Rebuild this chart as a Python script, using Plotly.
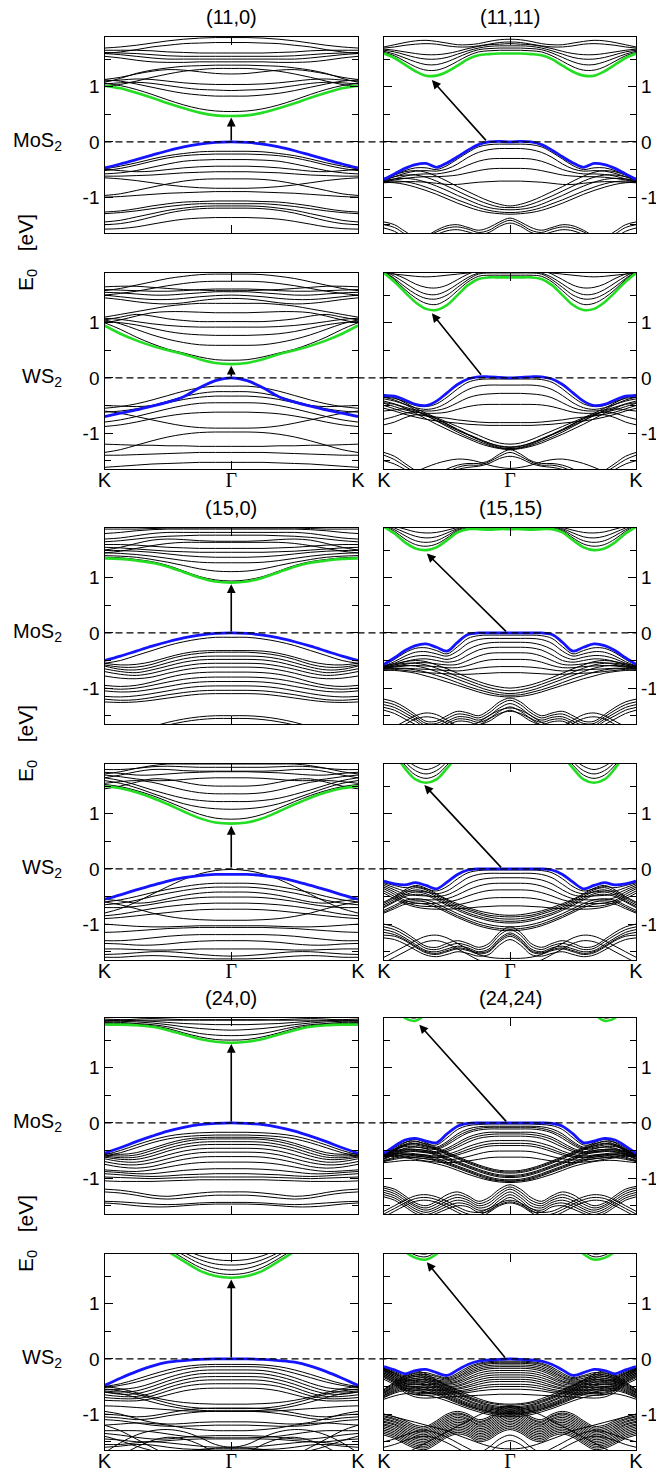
import plotly.graph_objects as go

# k-path sample positions (half path K -> Gamma); mirrored to Gamma -> K
KL = [0.0, 0.0625, 0.125, 0.1875, 0.25, 0.3125, 0.375, 0.4375, 0.5]
KR = [0.0, 0.0417, 0.0833, 0.125, 0.1667, 0.2083, 0.25, 0.2917, 0.3333, 0.375, 0.4167, 0.4583, 0.5]

# ---------------- (11,0) MoS2 ----------------
Z11_MO_VB = [-0.47, -0.40, -0.32, -0.24, -0.16, -0.09, -0.04, -0.01, 0.0]
Z11_MO_CB = [1.02, 0.97, 0.89, 0.80, 0.70, 0.61, 0.53, 0.48, 0.47]
Z11_MO_BANDS = [
    [1.06, 1.02, 0.95, 0.86, 0.76, 0.67, 0.60, 0.56, 0.55],
    [1.12, 1.10, 1.05, 0.99, 0.93, 0.88, 0.85, 0.83, 0.83],
    [1.05, 1.07, 1.08, 1.06, 1.02, 0.98, 0.95, 0.94, 0.93],
    [1.10, 1.12, 1.14, 1.13, 1.10, 1.07, 1.05, 1.04, 1.04],
    [1.00, 1.04, 1.10, 1.17, 1.23, 1.28, 1.31, 1.33, 1.33],
    [1.13, 1.17, 1.23, 1.28, 1.31, 1.30, 1.27, 1.24, 1.23],
    [1.08, 1.15, 1.24, 1.30, 1.34, 1.37, 1.38, 1.39, 1.39],
    [1.55, 1.52, 1.48, 1.45, 1.44, 1.44, 1.45, 1.45, 1.45],
    [1.60, 1.58, 1.55, 1.52, 1.50, 1.50, 1.50, 1.50, 1.50],
    [1.62, 1.61, 1.60, 1.58, 1.56, 1.55, 1.55, 1.55, 1.55],
    [1.66, 1.66, 1.66, 1.65, 1.63, 1.62, 1.61, 1.61, 1.61],
    [1.60, 1.63, 1.67, 1.72, 1.75, 1.78, 1.79, 1.80, 1.80],
    [1.70, 1.72, 1.75, 1.79, 1.83, 1.86, 1.88, 1.89, 1.89],
    [-0.49, -0.44, -0.38, -0.31, -0.25, -0.21, -0.18, -0.17, -0.17],
    [-0.52, -0.48, -0.42, -0.35, -0.29, -0.25, -0.23, -0.22, -0.22],
    [-0.58, -0.56, -0.52, -0.46, -0.40, -0.35, -0.33, -0.32, -0.32],
    [-0.50, -0.52, -0.54, -0.53, -0.50, -0.47, -0.45, -0.44, -0.44],
    [-0.62, -0.62, -0.61, -0.60, -0.58, -0.56, -0.55, -0.54, -0.54],
    [-0.65, -0.67, -0.70, -0.74, -0.78, -0.81, -0.83, -0.84, -0.84],
    [-0.97, -0.94, -0.88, -0.82, -0.76, -0.71, -0.68, -0.67, -0.67],
    [-1.00, -0.99, -0.97, -0.95, -0.93, -0.92, -0.91, -0.90, -0.90],
    [-1.27, -1.25, -1.21, -1.16, -1.12, -1.09, -1.08, -1.07, -1.07],
    [-1.30, -1.28, -1.25, -1.21, -1.17, -1.14, -1.12, -1.12, -1.12],
    [-1.45, -1.42, -1.36, -1.30, -1.24, -1.20, -1.17, -1.16, -1.16],
    [-1.50, -1.48, -1.43, -1.36, -1.29, -1.24, -1.21, -1.20, -1.20],
    [-1.58, -1.57, -1.54, -1.49, -1.44, -1.40, -1.38, -1.37, -1.37],
]
Z11_MO_ARROW = [0.5, 0.0, 0.5, 0.44]

# ---------------- (11,11) MoS2 ----------------
A11_MO_VB = [-0.68, -0.58, -0.48, -0.41, -0.39, -0.46, -0.38, -0.27, -0.15, -0.05, 0.0, 0.01, 0.0]
A11_MO_CB = [1.60, 1.52, 1.40, 1.28, 1.20, 1.20, 1.27, 1.38, 1.50, 1.57, 1.59, 1.60, 1.60]
A11_MO_BANDS = [
    [1.62, 1.56, 1.46, 1.36, 1.30, 1.30, 1.36, 1.46, 1.56, 1.63, 1.65, 1.66, 1.66],
    [1.64, 1.59, 1.52, 1.45, 1.40, 1.40, 1.45, 1.53, 1.61, 1.67, 1.69, 1.70, 1.70],
    [1.66, 1.63, 1.58, 1.53, 1.50, 1.50, 1.53, 1.59, 1.65, 1.70, 1.73, 1.74, 1.74],
    [1.68, 1.66, 1.63, 1.60, 1.58, 1.58, 1.60, 1.64, 1.69, 1.73, 1.76, 1.77, 1.78],
    [1.70, 1.72, 1.75, 1.77, 1.78, 1.77, 1.74, 1.72, 1.72, 1.74, 1.77, 1.80, 1.81],
    [1.72, 1.76, 1.80, 1.83, 1.84, 1.82, 1.79, 1.76, 1.76, 1.78, 1.82, 1.85, 1.86],
    [-0.70, -0.60, -0.52, -0.47, -0.47, -0.50, -0.43, -0.31, -0.19, -0.09, -0.05, -0.04, -0.04],
    [-0.70, -0.63, -0.57, -0.53, -0.52, -0.53, -0.49, -0.40, -0.28, -0.19, -0.14, -0.12, -0.12],
    [-0.72, -0.67, -0.62, -0.59, -0.58, -0.58, -0.55, -0.50, -0.42, -0.35, -0.31, -0.30, -0.30],
    [-0.72, -0.69, -0.66, -0.64, -0.63, -0.63, -0.62, -0.60, -0.56, -0.52, -0.49, -0.48, -0.48],
    [-0.74, -0.73, -0.72, -0.72, -0.73, -0.75, -0.77, -0.77, -0.75, -0.73, -0.72, -0.71, -0.71],
    [-0.66, -0.60, -0.54, -0.52, -0.55, -0.62, -0.71, -0.81, -0.90, -0.99, -1.07, -1.13, -1.16],
    [-0.68, -0.63, -0.60, -0.60, -0.64, -0.71, -0.80, -0.89, -0.98, -1.06, -1.13, -1.18, -1.19],
    [-0.70, -0.67, -0.66, -0.68, -0.73, -0.80, -0.88, -0.97, -1.05, -1.13, -1.19, -1.22, -1.23],
    [-0.72, -0.71, -0.72, -0.76, -0.82, -0.89, -0.97, -1.05, -1.12, -1.19, -1.24, -1.27, -1.28],
    [-0.73, -0.74, -0.77, -0.82, -0.88, -0.95, -1.03, -1.11, -1.18, -1.24, -1.28, -1.30, -1.31],
    [-1.45, -1.50, -1.62, -1.72, -1.70, -1.60, -1.52, -1.50, -1.55, -1.60, -1.55, -1.45, -1.38],
    [-1.50, -1.55, -1.67, -1.78, -1.72, -1.63, -1.56, -1.54, -1.58, -1.64, -1.60, -1.49, -1.42],
    [-1.56, -1.62, -1.74, -1.84, -1.78, -1.68, -1.61, -1.59, -1.63, -1.68, -1.64, -1.53, -1.47],
]
A11_MO_ARROW = [0.41, 0.0, 0.19, 1.12]

# ---------------- (11,0) WS2 ----------------
Z11_WS_VB = [-0.70, -0.64, -0.58, -0.51, -0.44, -0.34, -0.18, -0.05, 0.0]
Z11_WS_CB = [0.95, 0.80, 0.68, 0.58, 0.50, 0.43, 0.34, 0.27, 0.25]
Z11_WS_BANDS = [
    [1.00, 0.88, 0.74, 0.62, 0.52, 0.45, 0.38, 0.33, 0.32],
    [1.05, 0.98, 0.88, 0.78, 0.70, 0.64, 0.60, 0.59, 0.59],
    [1.02, 1.00, 0.96, 0.90, 0.84, 0.80, 0.78, 0.77, 0.77],
    [1.08, 1.06, 1.02, 0.98, 0.95, 0.93, 0.92, 0.92, 0.92],
    [1.05, 1.10, 1.15, 1.12, 1.07, 1.04, 1.02, 1.02, 1.02],
    [1.00, 1.05, 1.12, 1.18, 1.20, 1.20, 1.19, 1.18, 1.18],
    [1.10, 1.15, 1.20, 1.25, 1.30, 1.33, 1.35, 1.35, 1.35],
    [1.45, 1.42, 1.38, 1.35, 1.34, 1.36, 1.40, 1.43, 1.44],
    [1.50, 1.47, 1.44, 1.42, 1.42, 1.44, 1.47, 1.49, 1.50],
    [1.55, 1.54, 1.52, 1.50, 1.50, 1.52, 1.54, 1.56, 1.56],
    [1.60, 1.59, 1.58, 1.57, 1.57, 1.58, 1.60, 1.61, 1.61],
    [1.50, 1.53, 1.57, 1.62, 1.67, 1.71, 1.74, 1.75, 1.75],
    [1.58, 1.62, 1.68, 1.74, 1.80, 1.84, 1.87, 1.88, 1.88],
    [1.65, 1.66, 1.66, 1.64, 1.62, 1.60, 1.59, 1.58, 1.58],
    [-0.55, -0.52, -0.47, -0.40, -0.32, -0.24, -0.18, -0.15, -0.15],
    [-0.62, -0.60, -0.56, -0.50, -0.42, -0.34, -0.28, -0.25, -0.25],
    [-0.50, -0.51, -0.52, -0.50, -0.45, -0.39, -0.35, -0.33, -0.33],
    [-0.80, -0.76, -0.70, -0.63, -0.56, -0.50, -0.46, -0.45, -0.45],
    [-0.88, -0.85, -0.80, -0.74, -0.69, -0.65, -0.63, -0.62, -0.62],
    [-0.60, -0.64, -0.70, -0.76, -0.82, -0.87, -0.90, -0.91, -0.91],
    [-1.35, -1.30, -1.22, -1.14, -1.07, -1.02, -0.99, -0.98, -0.98],
    [-1.20, -1.21, -1.22, -1.22, -1.23, -1.23, -1.24, -1.24, -1.24],
    [-1.40, -1.40, -1.39, -1.38, -1.37, -1.36, -1.35, -1.35, -1.35],
    [-1.62, -1.60, -1.58, -1.56, -1.55, -1.54, -1.53, -1.53, -1.53],
]
Z11_WS_ARROW = [0.5, 0.0, 0.5, 0.22]

# ---------------- (11,11) WS2 ----------------
A11_WS_VB = [-0.32, -0.33, -0.40, -0.48, -0.50, -0.42, -0.27, -0.12, -0.02, 0.02, 0.02, 0.01, 0.0]
A11_WS_CB = [1.90, 1.74, 1.55, 1.37, 1.25, 1.23, 1.32, 1.50, 1.68, 1.79, 1.82, 1.82, 1.82]
A11_WS_BANDS = [
    [1.92, 1.78, 1.60, 1.45, 1.35, 1.33, 1.42, 1.58, 1.74, 1.84, 1.86, 1.86, 1.86],
    [1.93, 1.80, 1.65, 1.52, 1.44, 1.43, 1.50, 1.64, 1.78, 1.88, 1.90, 1.90, 1.90],
    [1.94, 1.84, 1.72, 1.60, 1.52, 1.51, 1.58, 1.70, 1.82, 1.90, 1.93, 1.94, 1.94],
    [1.95, 1.88, 1.80, 1.70, 1.64, 1.63, 1.68, 1.78, 1.88, 1.95, 1.97, 1.98, 1.98],
    [1.90, 1.88, 1.86, 1.84, 1.83, 1.84, 1.86, 1.88, 1.90, 1.92, 1.92, 1.92, 1.92],
    [-0.35, -0.37, -0.43, -0.50, -0.52, -0.47, -0.35, -0.20, -0.08, -0.03, -0.02, -0.02, -0.02],
    [-0.38, -0.42, -0.48, -0.54, -0.57, -0.54, -0.45, -0.32, -0.21, -0.15, -0.13, -0.13, -0.13],
    [-0.42, -0.47, -0.53, -0.58, -0.60, -0.59, -0.54, -0.45, -0.36, -0.31, -0.29, -0.28, -0.28],
    [-0.46, -0.52, -0.58, -0.62, -0.64, -0.64, -0.62, -0.57, -0.52, -0.49, -0.48, -0.48, -0.48],
    [-0.50, -0.56, -0.62, -0.66, -0.69, -0.71, -0.73, -0.76, -0.78, -0.80, -0.81, -0.81, -0.81],
    [-0.55, -0.60, -0.66, -0.71, -0.75, -0.78, -0.80, -0.82, -0.84, -0.85, -0.86, -0.86, -0.86],
    [-0.30, -0.36, -0.45, -0.55, -0.64, -0.72, -0.80, -0.88, -0.96, -1.04, -1.12, -1.18, -1.20],
    [-0.35, -0.40, -0.48, -0.58, -0.68, -0.77, -0.86, -0.95, -1.03, -1.11, -1.18, -1.23, -1.25],
    [-0.45, -0.48, -0.55, -0.64, -0.74, -0.84, -0.93, -1.02, -1.10, -1.18, -1.24, -1.28, -1.30],
    [-0.60, -0.58, -0.56, -0.60, -0.68, -0.78, -0.88, -0.98, -1.07, -1.15, -1.22, -1.27, -1.29],
    [-0.75, -0.70, -0.64, -0.62, -0.66, -0.74, -0.84, -0.94, -1.03, -1.12, -1.20, -1.26, -1.28],
    [-0.85, -0.80, -0.72, -0.67, -0.68, -0.74, -0.83, -0.93, -1.02, -1.10, -1.18, -1.24, -1.26],
    [-1.35, -1.42, -1.55, -1.68, -1.80, -1.75, -1.65, -1.58, -1.55, -1.55, -1.50, -1.38, -1.30],
    [-1.40, -1.48, -1.60, -1.72, -1.82, -1.78, -1.70, -1.62, -1.58, -1.58, -1.52, -1.42, -1.35],
    [-1.50, -1.56, -1.66, -1.78, -1.85, -1.82, -1.74, -1.66, -1.62, -1.60, -1.55, -1.46, -1.42],
    [-1.90, -1.85, -1.78, -1.70, -1.62, -1.55, -1.50, -1.47, -1.48, -1.52, -1.58, -1.62, -1.64],
]
A11_WS_ARROW = [0.39, 0.03, 0.19, 1.17]

# ---------------- (15,0) MoS2 ----------------
Z15_MO_VB = [-0.50, -0.42, -0.33, -0.24, -0.16, -0.09, -0.04, -0.01, 0.0]
Z15_MO_CB = [1.35, 1.34, 1.31, 1.27, 1.20, 1.10, 1.00, 0.93, 0.91]
Z15_MO_BANDS = [
    [1.37, 1.36, 1.33, 1.29, 1.22, 1.12, 1.02, 0.96, 0.94],
    [1.40, 1.39, 1.37, 1.33, 1.28, 1.22, 1.16, 1.12, 1.11],
    [1.45, 1.44, 1.42, 1.39, 1.35, 1.31, 1.28, 1.27, 1.27],
    [1.50, 1.49, 1.48, 1.46, 1.43, 1.40, 1.38, 1.37, 1.37],
    [1.55, 1.54, 1.52, 1.50, 1.48, 1.47, 1.46, 1.46, 1.46],
    [1.60, 1.60, 1.59, 1.57, 1.55, 1.54, 1.53, 1.53, 1.53],
    [1.45, 1.48, 1.53, 1.58, 1.62, 1.64, 1.64, 1.64, 1.64],
    [1.50, 1.55, 1.62, 1.68, 1.70, 1.69, 1.67, 1.66, 1.66],
    [1.65, 1.67, 1.70, 1.73, 1.75, 1.76, 1.77, 1.77, 1.77],
    [1.70, 1.72, 1.76, 1.80, 1.82, 1.82, 1.82, 1.82, 1.82],
    [1.80, 1.82, 1.85, 1.87, 1.88, 1.88, 1.88, 1.88, 1.88],
    [1.88, 1.88, 1.88, 1.89, 1.90, 1.90, 1.90, 1.90, 1.90],
    [-0.55, -0.50, -0.41, -0.32, -0.23, -0.16, -0.11, -0.08, -0.08],
    [-0.55, -0.58, -0.57, -0.52, -0.44, -0.37, -0.33, -0.32, -0.32],
    [-0.58, -0.62, -0.62, -0.57, -0.48, -0.41, -0.37, -0.35, -0.35],
    [-0.60, -0.66, -0.67, -0.62, -0.54, -0.47, -0.43, -0.42, -0.42],
    [-0.65, -0.70, -0.72, -0.67, -0.60, -0.53, -0.49, -0.48, -0.48],
    [-0.70, -0.75, -0.77, -0.73, -0.66, -0.60, -0.56, -0.55, -0.55],
    [-0.78, -0.82, -0.83, -0.80, -0.73, -0.67, -0.63, -0.62, -0.62],
    [-0.95, -0.97, -0.95, -0.89, -0.81, -0.75, -0.72, -0.71, -0.71],
    [-1.00, -1.02, -1.00, -0.95, -0.89, -0.84, -0.81, -0.80, -0.80],
    [-1.05, -1.07, -1.06, -1.02, -0.97, -0.92, -0.89, -0.88, -0.88],
    [-1.15, -1.16, -1.14, -1.10, -1.05, -1.00, -0.97, -0.96, -0.96],
    [-1.20, -1.22, -1.21, -1.17, -1.12, -1.08, -1.05, -1.04, -1.04],
    [-1.25, -1.26, -1.25, -1.22, -1.18, -1.14, -1.11, -1.10, -1.10],
    [-1.90, -1.85, -1.78, -1.70, -1.62, -1.56, -1.52, -1.50, -1.50],
    [-1.95, -1.90, -1.83, -1.75, -1.67, -1.61, -1.57, -1.55, -1.55],
]
Z15_MO_ARROW = [0.5, 0.0, 0.5, 0.88]

# ---------------- (15,15) MoS2 ----------------
A15_MO_VB = [-0.57, -0.45, -0.32, -0.23, -0.20, -0.26, -0.33, -0.17, -0.03, 0.0, 0.0, 0.0, 0.0]
A15_MO_CB = [1.92, 1.80, 1.64, 1.53, 1.50, 1.55, 1.68, 1.82, 1.88, 1.88, 1.87, 1.88, 1.88]
A15_MO_BANDS = [
    [1.94, 1.84, 1.70, 1.60, 1.57, 1.61, 1.72, 1.85, 1.90, 1.90, 1.90, 1.90, 1.90],
    [1.95, 1.87, 1.76, 1.67, 1.64, 1.67, 1.76, 1.87, 1.92, 1.92, 1.92, 1.92, 1.92],
    [1.96, 1.90, 1.82, 1.75, 1.72, 1.74, 1.81, 1.89, 1.94, 1.94, 1.94, 1.94, 1.94],
    [1.97, 1.93, 1.88, 1.83, 1.81, 1.82, 1.86, 1.91, 1.96, 1.96, 1.96, 1.96, 1.96],
    [-0.58, -0.48, -0.36, -0.28, -0.27, -0.32, -0.38, -0.25, -0.10, -0.05, -0.04, -0.04, -0.04],
    [-0.60, -0.52, -0.42, -0.35, -0.34, -0.38, -0.42, -0.33, -0.19, -0.12, -0.10, -0.10, -0.10],
    [-0.60, -0.55, -0.47, -0.42, -0.41, -0.44, -0.48, -0.42, -0.30, -0.22, -0.18, -0.17, -0.17],
    [-0.62, -0.58, -0.52, -0.48, -0.47, -0.50, -0.53, -0.50, -0.40, -0.31, -0.27, -0.26, -0.26],
    [-0.62, -0.60, -0.57, -0.54, -0.54, -0.56, -0.58, -0.57, -0.50, -0.42, -0.37, -0.36, -0.36],
    [-0.64, -0.62, -0.60, -0.59, -0.60, -0.61, -0.63, -0.63, -0.59, -0.53, -0.49, -0.48, -0.48],
    [-0.64, -0.64, -0.64, -0.65, -0.66, -0.67, -0.68, -0.69, -0.67, -0.64, -0.62, -0.61, -0.61],
    [-0.65, -0.66, -0.68, -0.70, -0.72, -0.73, -0.74, -0.75, -0.75, -0.74, -0.73, -0.72, -0.72],
    [-0.60, -0.56, -0.52, -0.50, -0.52, -0.58, -0.65, -0.73, -0.81, -0.88, -0.94, -0.98, -1.00],
    [-0.62, -0.58, -0.55, -0.55, -0.58, -0.64, -0.71, -0.79, -0.86, -0.93, -0.99, -1.03, -1.05],
    [-0.64, -0.61, -0.59, -0.60, -0.64, -0.70, -0.77, -0.84, -0.91, -0.98, -1.04, -1.08, -1.10],
    [-0.66, -0.65, -0.65, -0.67, -0.71, -0.77, -0.83, -0.90, -0.97, -1.03, -1.08, -1.12, -1.13],
    [-0.68, -0.68, -0.70, -0.73, -0.78, -0.83, -0.89, -0.95, -1.01, -1.07, -1.12, -1.15, -1.16],
    [-1.20, -1.25, -1.35, -1.48, -1.60, -1.60, -1.50, -1.42, -1.45, -1.50, -1.40, -1.25, -1.18],
    [-1.25, -1.30, -1.40, -1.52, -1.64, -1.64, -1.55, -1.47, -1.49, -1.54, -1.45, -1.30, -1.22],
    [-1.30, -1.35, -1.45, -1.56, -1.68, -1.68, -1.60, -1.52, -1.53, -1.58, -1.50, -1.36, -1.28],
    [-1.35, -1.40, -1.50, -1.60, -1.72, -1.72, -1.64, -1.56, -1.57, -1.62, -1.55, -1.42, -1.34],
    [-1.80, -1.70, -1.60, -1.50, -1.45, -1.48, -1.58, -1.68, -1.70, -1.62, -1.50, -1.40, -1.36],
    [-1.90, -1.78, -1.66, -1.56, -1.52, -1.55, -1.64, -1.74, -1.76, -1.68, -1.56, -1.46, -1.42],
    [-1.40, -1.46, -1.56, -1.66, -1.76, -1.76, -1.68, -1.60, -1.61, -1.66, -1.60, -1.48, -1.40],
]
A15_MO_ARROW = [0.49, 0.0, 0.17, 1.44]

# ---------------- (15,0) WS2 ----------------
Z15_WS_VB = [-0.55, -0.47, -0.38, -0.30, -0.22, -0.16, -0.12, -0.10, -0.10]
Z15_WS_CB = [1.50, 1.46, 1.39, 1.29, 1.17, 1.04, 0.92, 0.84, 0.82]
Z15_WS_BANDS = [
    [1.53, 1.49, 1.42, 1.33, 1.22, 1.10, 0.99, 0.92, 0.90],
    [1.60, 1.55, 1.47, 1.37, 1.27, 1.18, 1.12, 1.09, 1.08],
    [1.65, 1.60, 1.52, 1.43, 1.35, 1.28, 1.24, 1.22, 1.22],
    [1.55, 1.58, 1.60, 1.57, 1.50, 1.43, 1.38, 1.36, 1.36],
    [1.45, 1.50, 1.57, 1.63, 1.62, 1.57, 1.52, 1.50, 1.50],
    [1.70, 1.67, 1.63, 1.60, 1.60, 1.62, 1.64, 1.65, 1.65],
    [1.75, 1.73, 1.70, 1.70, 1.72, 1.74, 1.75, 1.76, 1.76],
    [1.65, 1.70, 1.76, 1.80, 1.80, 1.78, 1.77, 1.77, 1.77],
    [1.80, 1.80, 1.82, 1.85, 1.86, 1.85, 1.84, 1.84, 1.84],
    [1.72, 1.76, 1.82, 1.87, 1.90, 1.90, 1.90, 1.90, 1.90],
    [-0.80, -0.72, -0.60, -0.46, -0.32, -0.19, -0.09, -0.03, -0.01],
    [-0.60, -0.56, -0.50, -0.43, -0.37, -0.32, -0.28, -0.26, -0.26],
    [-0.65, -0.62, -0.57, -0.50, -0.44, -0.39, -0.35, -0.33, -0.33],
    [-0.55, -0.58, -0.62, -0.60, -0.54, -0.48, -0.44, -0.42, -0.42],
    [-0.70, -0.70, -0.68, -0.64, -0.59, -0.55, -0.52, -0.51, -0.51],
    [-0.85, -0.82, -0.77, -0.72, -0.68, -0.65, -0.63, -0.62, -0.62],
    [-0.90, -0.88, -0.85, -0.82, -0.79, -0.76, -0.74, -0.73, -0.73],
    [-0.60, -0.65, -0.72, -0.80, -0.86, -0.90, -0.92, -0.93, -0.93],
    [-1.00, -1.02, -1.04, -1.05, -1.05, -1.04, -1.03, -1.03, -1.03],
    [-1.15, -1.14, -1.12, -1.10, -1.08, -1.07, -1.06, -1.06, -1.06],
    [-1.30, -1.30, -1.28, -1.25, -1.22, -1.20, -1.19, -1.19, -1.19],
    [-1.35, -1.36, -1.38, -1.38, -1.36, -1.33, -1.31, -1.30, -1.30],
    [-1.45, -1.45, -1.46, -1.47, -1.47, -1.46, -1.45, -1.45, -1.45],
    [-1.55, -1.54, -1.52, -1.50, -1.50, -1.52, -1.55, -1.57, -1.58],
    [-1.60, -1.60, -1.58, -1.57, -1.58, -1.60, -1.62, -1.63, -1.63],
]
Z15_WS_ARROW = [0.5, 0.0, 0.5, 0.78]

# ---------------- (15,15) WS2 ----------------
A15_WS_VB = [-0.22, -0.27, -0.29, -0.25, -0.30, -0.36, -0.24, -0.10, -0.02, 0.0, 0.0, 0.0, 0.0]
A15_WS_CB = [2.40, 2.10, 1.82, 1.62, 1.56, 1.62, 1.82, 2.05, 2.20, 2.30, 2.30, 2.30, 2.30]
A15_WS_BANDS = [
    [2.45, 2.15, 1.88, 1.70, 1.64, 1.70, 1.88, 2.10, 2.25, 2.30, 2.30, 2.30, 2.30],
    [2.50, 2.20, 1.94, 1.78, 1.72, 1.78, 1.94, 2.15, 2.30, 2.35, 2.35, 2.35, 2.35],
    [2.55, 2.25, 2.00, 1.86, 1.80, 1.86, 2.00, 2.20, 2.35, 2.40, 2.40, 2.40, 2.40],
    [-0.25, -0.30, -0.34, -0.32, -0.36, -0.40, -0.32, -0.18, -0.07, -0.03, -0.02, -0.02, -0.02],
    [-0.27, -0.34, -0.40, -0.40, -0.42, -0.45, -0.40, -0.28, -0.16, -0.10, -0.08, -0.08, -0.08],
    [-0.30, -0.38, -0.46, -0.48, -0.49, -0.50, -0.47, -0.38, -0.27, -0.20, -0.17, -0.16, -0.16],
    [-0.33, -0.42, -0.52, -0.56, -0.56, -0.56, -0.54, -0.47, -0.38, -0.31, -0.27, -0.26, -0.26],
    [-0.36, -0.46, -0.57, -0.62, -0.63, -0.62, -0.60, -0.56, -0.49, -0.43, -0.39, -0.38, -0.38],
    [-0.40, -0.50, -0.60, -0.66, -0.68, -0.68, -0.67, -0.65, -0.61, -0.56, -0.53, -0.52, -0.52],
    [-0.44, -0.54, -0.63, -0.69, -0.72, -0.73, -0.73, -0.72, -0.71, -0.69, -0.68, -0.67, -0.67],
    [-0.60, -0.50, -0.38, -0.30, -0.35, -0.45, -0.55, -0.63, -0.70, -0.76, -0.80, -0.83, -0.84],
    [-0.65, -0.55, -0.44, -0.38, -0.41, -0.50, -0.60, -0.69, -0.76, -0.82, -0.87, -0.90, -0.91],
    [-0.70, -0.60, -0.50, -0.46, -0.48, -0.56, -0.66, -0.75, -0.83, -0.89, -0.94, -0.97, -0.98],
    [-0.75, -0.66, -0.57, -0.54, -0.56, -0.63, -0.72, -0.81, -0.89, -0.96, -1.01, -1.04, -1.05],
    [-0.80, -0.72, -0.64, -0.62, -0.64, -0.70, -0.79, -0.88, -0.96, -1.03, -1.08, -1.11, -1.12],
    [-0.62, -0.52, -0.41, -0.34, -0.38, -0.47, -0.57, -0.66, -0.73, -0.79, -0.84, -0.86, -0.87],
    [-0.68, -0.58, -0.47, -0.42, -0.45, -0.53, -0.63, -0.72, -0.80, -0.86, -0.91, -0.94, -0.95],
    [-0.78, -0.69, -0.60, -0.58, -0.60, -0.67, -0.76, -0.85, -0.93, -1.00, -1.05, -1.08, -1.09],
    [-1.00, -1.05, -1.15, -1.28, -1.40, -1.42, -1.35, -1.30, -1.35, -1.42, -1.35, -1.15, -1.05],
    [-1.05, -1.10, -1.20, -1.32, -1.44, -1.46, -1.40, -1.35, -1.39, -1.46, -1.40, -1.20, -1.10],
    [-1.10, -1.15, -1.25, -1.37, -1.48, -1.50, -1.45, -1.40, -1.43, -1.50, -1.45, -1.26, -1.16],
    [-1.20, -1.22, -1.30, -1.42, -1.52, -1.55, -1.50, -1.45, -1.48, -1.54, -1.50, -1.32, -1.22],
    [-1.15, -1.19, -1.28, -1.40, -1.50, -1.53, -1.48, -1.43, -1.46, -1.52, -1.48, -1.29, -1.19],
    [-1.25, -1.28, -1.36, -1.47, -1.56, -1.59, -1.55, -1.50, -1.53, -1.58, -1.55, -1.38, -1.28],
    [-1.60, -1.50, -1.40, -1.30, -1.22, -1.20, -1.25, -1.35, -1.45, -1.55, -1.60, -1.62, -1.62],
    [-1.70, -1.60, -1.50, -1.40, -1.32, -1.30, -1.35, -1.45, -1.55, -1.65, -1.70, -1.72, -1.72],
]
A15_WS_ARROW = [0.47, 0.0, 0.16, 1.52]

# ---------------- (24,0) MoS2 ----------------
Z24_MO_VB = [-0.55, -0.45, -0.34, -0.24, -0.15, -0.08, -0.03, -0.01, 0.0]
Z24_MO_CB = [1.78, 1.78, 1.77, 1.74, 1.68, 1.60, 1.52, 1.47, 1.45]
Z24_MO_BANDS = [
    [1.80, 1.80, 1.79, 1.76, 1.71, 1.63, 1.56, 1.51, 1.50],
    [1.82, 1.82, 1.80, 1.78, 1.74, 1.68, 1.62, 1.59, 1.58],
    [1.84, 1.84, 1.83, 1.81, 1.78, 1.74, 1.71, 1.69, 1.68],
    [1.86, 1.86, 1.85, 1.84, 1.82, 1.80, 1.79, 1.78, 1.78],
    [1.88, 1.87, 1.86, 1.86, 1.86, 1.86, 1.87, 1.87, 1.87],
    [1.85, 1.86, 1.88, 1.89, 1.88, 1.87, 1.86, 1.86, 1.86],
    [-0.58, -0.50, -0.40, -0.31, -0.24, -0.20, -0.18, -0.17, -0.17],
    [-0.60, -0.54, -0.45, -0.36, -0.29, -0.25, -0.23, -0.22, -0.22],
    [-0.55, -0.57, -0.54, -0.46, -0.37, -0.30, -0.27, -0.26, -0.26],
    [-0.58, -0.60, -0.58, -0.50, -0.41, -0.34, -0.30, -0.29, -0.29],
    [-0.60, -0.63, -0.62, -0.55, -0.46, -0.39, -0.35, -0.34, -0.34],
    [-0.62, -0.66, -0.66, -0.60, -0.51, -0.44, -0.40, -0.39, -0.39],
    [-0.65, -0.70, -0.71, -0.66, -0.58, -0.51, -0.47, -0.46, -0.46],
    [-0.70, -0.75, -0.76, -0.72, -0.65, -0.58, -0.54, -0.53, -0.53],
    [-0.75, -0.80, -0.82, -0.79, -0.72, -0.66, -0.62, -0.61, -0.61],
    [-0.85, -0.87, -0.88, -0.85, -0.80, -0.75, -0.72, -0.71, -0.71],
    [-0.88, -0.90, -0.92, -0.92, -0.89, -0.86, -0.84, -0.83, -0.83],
    [-0.92, -0.94, -0.96, -0.97, -0.96, -0.94, -0.93, -0.92, -0.92],
    [-0.98, -0.99, -1.00, -1.01, -1.00, -0.99, -0.98, -0.98, -0.98],
    [-1.05, -1.06, -1.06, -1.06, -1.05, -1.04, -1.03, -1.03, -1.03],
    [-1.20, -1.22, -1.26, -1.31, -1.33, -1.30, -1.27, -1.25, -1.25],
    [-1.25, -1.27, -1.31, -1.36, -1.38, -1.36, -1.33, -1.31, -1.31],
    [-1.42, -1.43, -1.45, -1.47, -1.48, -1.47, -1.45, -1.44, -1.44],
    [-1.45, -1.47, -1.50, -1.52, -1.52, -1.50, -1.48, -1.47, -1.47],
]
Z24_MO_ARROW = [0.5, 0.0, 0.5, 1.43]

# ---------------- (24,24) MoS2 ----------------
A24_MO_VB = [-0.55, -0.42, -0.31, -0.28, -0.33, -0.36, -0.20, -0.06, -0.01, 0.0, 0.0, 0.0, 0.0]
A24_MO_CB = [2.50, 2.15, 1.90, 1.85, 1.98, 2.20, 2.40, 2.50, 2.50, 2.50, 2.50, 2.50, 2.50]
A24_MO_BANDS = [
    [2.55, 2.20, 1.95, 1.90, 2.02, 2.25, 2.45, 2.55, 2.55, 2.55, 2.55, 2.55, 2.55],
    [2.60, 2.25, 2.00, 1.95, 2.06, 2.30, 2.50, 2.60, 2.60, 2.60, 2.60, 2.60, 2.60],
    [-0.56, -0.45, -0.35, -0.33, -0.38, -0.40, -0.27, -0.12, -0.05, -0.03, -0.02, -0.02, -0.02],
    [-0.57, -0.47, -0.39, -0.38, -0.42, -0.44, -0.34, -0.20, -0.11, -0.07, -0.06, -0.06, -0.06],
    [-0.57, -0.49, -0.43, -0.43, -0.46, -0.48, -0.40, -0.28, -0.18, -0.13, -0.11, -0.11, -0.11],
    [-0.58, -0.51, -0.47, -0.48, -0.50, -0.52, -0.46, -0.36, -0.26, -0.20, -0.17, -0.17, -0.17],
    [-0.58, -0.53, -0.51, -0.52, -0.54, -0.56, -0.52, -0.44, -0.35, -0.28, -0.25, -0.24, -0.24],
    [-0.59, -0.55, -0.54, -0.56, -0.58, -0.60, -0.57, -0.51, -0.43, -0.37, -0.33, -0.32, -0.32],
    [-0.60, -0.57, -0.57, -0.60, -0.62, -0.63, -0.62, -0.58, -0.52, -0.46, -0.42, -0.41, -0.41],
    [-0.60, -0.59, -0.60, -0.63, -0.65, -0.67, -0.67, -0.65, -0.61, -0.56, -0.52, -0.51, -0.51],
    [-0.61, -0.61, -0.63, -0.66, -0.69, -0.71, -0.72, -0.71, -0.69, -0.66, -0.63, -0.62, -0.62],
    [-0.57, -0.48, -0.41, -0.40, -0.44, -0.46, -0.37, -0.24, -0.15, -0.10, -0.08, -0.08, -0.08],
    [-0.58, -0.52, -0.49, -0.50, -0.52, -0.54, -0.49, -0.40, -0.30, -0.24, -0.21, -0.20, -0.20],
    [-0.59, -0.56, -0.56, -0.58, -0.60, -0.62, -0.60, -0.55, -0.48, -0.42, -0.38, -0.37, -0.37],
    [-0.60, -0.48, -0.36, -0.30, -0.36, -0.45, -0.53, -0.61, -0.69, -0.76, -0.82, -0.86, -0.87],
    [-0.62, -0.51, -0.41, -0.37, -0.41, -0.49, -0.57, -0.65, -0.73, -0.80, -0.86, -0.90, -0.91],
    [-0.64, -0.54, -0.46, -0.44, -0.47, -0.54, -0.62, -0.70, -0.77, -0.84, -0.90, -0.94, -0.95],
    [-0.66, -0.58, -0.52, -0.51, -0.53, -0.59, -0.67, -0.74, -0.81, -0.88, -0.94, -0.98, -0.99],
    [-0.68, -0.62, -0.57, -0.57, -0.59, -0.64, -0.71, -0.78, -0.85, -0.92, -0.98, -1.02, -1.03],
    [-0.70, -0.66, -0.63, -0.63, -0.65, -0.69, -0.75, -0.82, -0.89, -0.96, -1.02, -1.05, -1.06],
    [-0.72, -0.70, -0.68, -0.68, -0.70, -0.74, -0.79, -0.86, -0.93, -0.99, -1.04, -1.07, -1.08],
    [-0.61, -0.50, -0.39, -0.34, -0.39, -0.47, -0.55, -0.63, -0.71, -0.78, -0.84, -0.88, -0.89],
    [-0.65, -0.56, -0.49, -0.48, -0.50, -0.57, -0.65, -0.72, -0.79, -0.86, -0.92, -0.96, -0.97],
    [-0.69, -0.64, -0.60, -0.60, -0.62, -0.67, -0.73, -0.80, -0.87, -0.94, -1.00, -1.04, -1.05],
    [-1.15, -1.20, -1.32, -1.45, -1.50, -1.42, -1.30, -1.25, -1.32, -1.42, -1.35, -1.20, -1.12],
    [-1.18, -1.24, -1.36, -1.49, -1.54, -1.47, -1.36, -1.30, -1.36, -1.46, -1.40, -1.25, -1.16],
    [-1.22, -1.28, -1.40, -1.52, -1.58, -1.52, -1.41, -1.35, -1.40, -1.50, -1.45, -1.30, -1.20],
    [-1.26, -1.32, -1.44, -1.56, -1.62, -1.56, -1.46, -1.40, -1.44, -1.54, -1.50, -1.35, -1.25],
    [-1.30, -1.36, -1.48, -1.60, -1.66, -1.60, -1.51, -1.45, -1.48, -1.58, -1.55, -1.40, -1.30],
    [-1.34, -1.40, -1.52, -1.64, -1.70, -1.64, -1.56, -1.50, -1.52, -1.62, -1.60, -1.45, -1.35],
    [-1.60, -1.50, -1.40, -1.32, -1.30, -1.34, -1.42, -1.52, -1.60, -1.62, -1.55, -1.45, -1.40],
    [-1.70, -1.60, -1.50, -1.42, -1.40, -1.44, -1.52, -1.62, -1.70, -1.72, -1.62, -1.50, -1.45],
    [-1.65, -1.55, -1.45, -1.37, -1.35, -1.39, -1.47, -1.57, -1.65, -1.67, -1.58, -1.48, -1.43],
]
A24_MO_ARROW = [0.49, 0.0, 0.14, 1.78]

# ---------------- (24,0) WS2 ----------------
Z24_WS_VB = [-0.48, -0.35, -0.23, -0.13, -0.06, -0.03, -0.01, 0.0, 0.0]
Z24_WS_CB = [2.90, 2.60, 2.35, 2.15, 1.95, 1.77, 1.60, 1.50, 1.47]
Z24_WS_BANDS = [
    [2.95, 2.65, 2.40, 2.20, 2.00, 1.82, 1.66, 1.56, 1.53],
    [3.00, 2.70, 2.45, 2.25, 2.05, 1.88, 1.73, 1.64, 1.61],
    [3.05, 2.75, 2.50, 2.30, 2.10, 1.93, 1.80, 1.72, 1.70],
    [3.10, 2.80, 2.55, 2.35, 2.15, 1.99, 1.87, 1.80, 1.78],
    [-0.50, -0.45, -0.37, -0.28, -0.20, -0.14, -0.11, -0.10, -0.10],
    [-0.52, -0.48, -0.42, -0.34, -0.26, -0.19, -0.15, -0.14, -0.14],
    [-0.55, -0.55, -0.52, -0.44, -0.34, -0.26, -0.21, -0.20, -0.20],
    [-0.58, -0.60, -0.58, -0.50, -0.40, -0.32, -0.27, -0.26, -0.26],
    [-0.60, -0.64, -0.63, -0.56, -0.46, -0.38, -0.33, -0.32, -0.32],
    [-0.65, -0.68, -0.68, -0.62, -0.52, -0.44, -0.39, -0.38, -0.38],
    [-0.70, -0.72, -0.72, -0.67, -0.58, -0.50, -0.46, -0.45, -0.45],
    [-0.75, -0.76, -0.76, -0.72, -0.65, -0.58, -0.54, -0.53, -0.53],
    [-0.55, -0.58, -0.64, -0.72, -0.80, -0.86, -0.89, -0.90, -0.90],
    [-0.60, -0.63, -0.70, -0.78, -0.85, -0.90, -0.93, -0.94, -0.94],
    [-0.50, -0.54, -0.61, -0.69, -0.75, -0.79, -0.81, -0.82, -0.82],
    [-0.85, -0.86, -0.88, -0.90, -0.92, -0.94, -0.95, -0.95, -0.95],
    [-1.00, -1.02, -1.05, -1.03, -0.98, -0.93, -0.90, -0.89, -0.89],
    [-1.05, -1.07, -1.10, -1.08, -1.03, -0.99, -0.96, -0.95, -0.95],
    [-0.95, -1.00, -1.08, -1.15, -1.18, -1.17, -1.15, -1.14, -1.14],
    [-1.10, -1.12, -1.16, -1.20, -1.22, -1.22, -1.21, -1.20, -1.20],
    [-1.20, -1.18, -1.16, -1.17, -1.20, -1.25, -1.28, -1.30, -1.30],
    [-1.30, -1.30, -1.30, -1.32, -1.36, -1.40, -1.42, -1.43, -1.43],
    [-1.35, -1.38, -1.42, -1.45, -1.45, -1.42, -1.40, -1.39, -1.39],
    [-1.45, -1.47, -1.50, -1.50, -1.48, -1.46, -1.45, -1.45, -1.45],
    [-1.55, -1.55, -1.52, -1.50, -1.52, -1.55, -1.58, -1.60, -1.60],
    [-1.60, -1.58, -1.55, -1.56, -1.60, -1.63, -1.64, -1.65, -1.65],
    [-1.90, -1.75, -1.60, -1.48, -1.42, -1.45, -1.55, -1.70, -1.80],
    [-1.20, -1.30, -1.45, -1.60, -1.75, -1.90, -2.00, -2.05, -2.05],
    [-1.70, -1.52, -1.38, -1.30, -1.28, -1.32, -1.42, -1.55, -1.60],
    [-1.40, -1.48, -1.58, -1.66, -1.70, -1.68, -1.64, -1.62, -1.62],
]
Z24_WS_ARROW = [0.5, 0.0, 0.5, 1.44]

# ---------------- (24,24) WS2 ----------------
A24_WS_VB = [-0.14, -0.20, -0.27, -0.21, -0.19, -0.25, -0.30, -0.20, -0.10, -0.04, -0.02, -0.01, 0.0]
A24_WS_CB = [2.50, 2.20, 1.95, 1.83, 1.80, 1.90, 2.10, 2.30, 2.50, 2.50, 2.50, 2.50, 2.50]
A24_WS_BANDS = [
    [2.55, 2.25, 2.00, 1.88, 1.85, 1.95, 2.15, 2.35, 2.55, 2.55, 2.55, 2.55, 2.55],
    [2.60, 2.30, 2.05, 1.93, 1.90, 2.00, 2.20, 2.40, 2.60, 2.60, 2.60, 2.60, 2.60],
    [-0.16, -0.23, -0.31, -0.26, -0.25, -0.30, -0.34, -0.26, -0.15, -0.08, -0.05, -0.04, -0.04],
    [-0.17, -0.25, -0.33, -0.29, -0.28, -0.32, -0.36, -0.29, -0.18, -0.10, -0.07, -0.06, -0.06],
    [-0.18, -0.26, -0.35, -0.32, -0.31, -0.35, -0.38, -0.32, -0.21, -0.13, -0.09, -0.08, -0.08],
    [-0.19, -0.27, -0.37, -0.35, -0.34, -0.38, -0.40, -0.34, -0.24, -0.16, -0.12, -0.11, -0.11],
    [-0.20, -0.29, -0.39, -0.38, -0.37, -0.40, -0.42, -0.37, -0.27, -0.19, -0.15, -0.14, -0.14],
    [-0.21, -0.30, -0.41, -0.41, -0.40, -0.42, -0.44, -0.40, -0.30, -0.22, -0.18, -0.17, -0.17],
    [-0.22, -0.32, -0.43, -0.44, -0.43, -0.45, -0.46, -0.42, -0.34, -0.26, -0.22, -0.21, -0.21],
    [-0.23, -0.33, -0.45, -0.47, -0.46, -0.47, -0.48, -0.45, -0.37, -0.30, -0.26, -0.25, -0.25],
    [-0.25, -0.35, -0.47, -0.50, -0.49, -0.50, -0.51, -0.48, -0.41, -0.34, -0.30, -0.29, -0.29],
    [-0.26, -0.36, -0.49, -0.52, -0.52, -0.52, -0.53, -0.50, -0.44, -0.38, -0.34, -0.33, -0.33],
    [-0.28, -0.38, -0.51, -0.55, -0.55, -0.55, -0.55, -0.53, -0.48, -0.42, -0.38, -0.37, -0.37],
    [-0.29, -0.39, -0.53, -0.57, -0.58, -0.57, -0.57, -0.55, -0.51, -0.46, -0.42, -0.41, -0.41],
    [-0.31, -0.41, -0.55, -0.60, -0.61, -0.60, -0.60, -0.58, -0.55, -0.50, -0.47, -0.46, -0.46],
    [-0.32, -0.42, -0.56, -0.62, -0.63, -0.62, -0.62, -0.60, -0.58, -0.54, -0.51, -0.50, -0.50],
    [-0.34, -0.44, -0.58, -0.65, -0.66, -0.65, -0.64, -0.63, -0.61, -0.58, -0.56, -0.55, -0.55],
    [-0.37, -0.47, -0.61, -0.69, -0.71, -0.70, -0.69, -0.68, -0.67, -0.66, -0.65, -0.64, -0.64],
    [-0.55, -0.42, -0.30, -0.22, -0.27, -0.38, -0.48, -0.57, -0.65, -0.72, -0.78, -0.81, -0.82],
    [-0.56, -0.44, -0.32, -0.25, -0.30, -0.40, -0.50, -0.60, -0.68, -0.75, -0.80, -0.83, -0.84],
    [-0.58, -0.46, -0.35, -0.29, -0.33, -0.43, -0.53, -0.62, -0.70, -0.77, -0.83, -0.86, -0.87],
    [-0.60, -0.48, -0.37, -0.32, -0.36, -0.45, -0.55, -0.64, -0.72, -0.79, -0.85, -0.88, -0.89],
    [-0.61, -0.50, -0.40, -0.36, -0.39, -0.48, -0.58, -0.67, -0.75, -0.82, -0.87, -0.90, -0.91],
    [-0.62, -0.52, -0.42, -0.39, -0.42, -0.50, -0.60, -0.69, -0.77, -0.84, -0.89, -0.92, -0.93],
    [-0.64, -0.54, -0.45, -0.43, -0.46, -0.53, -0.63, -0.72, -0.80, -0.86, -0.91, -0.94, -0.95],
    [-0.66, -0.56, -0.48, -0.46, -0.49, -0.56, -0.65, -0.74, -0.82, -0.88, -0.93, -0.96, -0.97],
    [-0.67, -0.58, -0.51, -0.50, -0.53, -0.59, -0.68, -0.76, -0.84, -0.90, -0.95, -0.98, -0.99],
    [-0.69, -0.60, -0.54, -0.53, -0.56, -0.62, -0.70, -0.78, -0.85, -0.91, -0.96, -0.99, -1.00],
    [-0.70, -0.62, -0.57, -0.57, -0.60, -0.65, -0.72, -0.80, -0.87, -0.93, -0.98, -1.01, -1.02],
    [-0.73, -0.67, -0.63, -0.64, -0.66, -0.70, -0.76, -0.83, -0.90, -0.96, -1.01, -1.04, -1.05],
    [-1.00, -1.05, -1.12, -1.20, -1.22, -1.12, -1.00, -0.95, -1.00, -1.10, -1.05, -0.92, -0.85],
    [-1.03, -1.08, -1.15, -1.23, -1.25, -1.15, -1.03, -0.98, -1.03, -1.13, -1.08, -0.95, -0.88],
    [-1.05, -1.10, -1.18, -1.26, -1.28, -1.18, -1.06, -1.00, -1.05, -1.15, -1.10, -0.98, -0.92],
    [-1.08, -1.13, -1.21, -1.29, -1.31, -1.21, -1.09, -1.03, -1.08, -1.18, -1.13, -1.01, -0.95],
    [-1.10, -1.15, -1.24, -1.32, -1.34, -1.24, -1.12, -1.06, -1.10, -1.20, -1.16, -1.04, -0.98],
    [-1.13, -1.18, -1.27, -1.35, -1.37, -1.27, -1.15, -1.09, -1.13, -1.23, -1.19, -1.07, -1.01],
    [-1.15, -1.20, -1.30, -1.38, -1.40, -1.30, -1.18, -1.12, -1.16, -1.26, -1.22, -1.10, -1.04],
    [-1.18, -1.23, -1.33, -1.41, -1.43, -1.33, -1.21, -1.15, -1.19, -1.29, -1.25, -1.13, -1.07],
    [-1.20, -1.26, -1.36, -1.44, -1.46, -1.36, -1.24, -1.18, -1.22, -1.32, -1.28, -1.16, -1.10],
    [-1.23, -1.29, -1.39, -1.47, -1.49, -1.39, -1.27, -1.21, -1.25, -1.35, -1.31, -1.19, -1.13],
    [-1.26, -1.32, -1.42, -1.50, -1.52, -1.42, -1.30, -1.24, -1.28, -1.38, -1.34, -1.22, -1.16],
    [-1.29, -1.35, -1.45, -1.53, -1.55, -1.45, -1.33, -1.27, -1.31, -1.41, -1.37, -1.25, -1.19],
    [-1.32, -1.38, -1.48, -1.56, -1.58, -1.48, -1.36, -1.30, -1.34, -1.44, -1.40, -1.28, -1.22],
    [-1.35, -1.41, -1.51, -1.59, -1.61, -1.51, -1.39, -1.33, -1.37, -1.47, -1.43, -1.31, -1.25],
    [-1.38, -1.44, -1.54, -1.62, -1.64, -1.54, -1.42, -1.36, -1.40, -1.50, -1.46, -1.34, -1.28],
    [-1.50, -1.45, -1.38, -1.32, -1.30, -1.34, -1.42, -1.52, -1.62, -1.70, -1.60, -1.45, -1.38],
    [-1.60, -1.55, -1.48, -1.42, -1.40, -1.44, -1.52, -1.62, -1.72, -1.80, -1.70, -1.55, -1.48],
    [-1.00, -1.05, -1.10, -1.15, -1.20, -1.25, -1.30, -1.38, -1.45, -1.52, -1.58, -1.62, -1.63],
    [-1.90, -1.82, -1.72, -1.62, -1.52, -1.42, -1.32, -1.22, -1.12, -1.02, -0.94, -0.88, -0.86],
]
A24_WS_ARROW = [0.485, 0.0, 0.17, 1.75]

# panel list: (kgrid, bands, vb, cb, arrow)
PANELS = [
    (KL, Z11_MO_BANDS, Z11_MO_VB, Z11_MO_CB, Z11_MO_ARROW),
    (KR, A11_MO_BANDS, A11_MO_VB, A11_MO_CB, A11_MO_ARROW),
    (KL, Z11_WS_BANDS, Z11_WS_VB, Z11_WS_CB, Z11_WS_ARROW),
    (KR, A11_WS_BANDS, A11_WS_VB, A11_WS_CB, A11_WS_ARROW),
    (KL, Z15_MO_BANDS, Z15_MO_VB, Z15_MO_CB, Z15_MO_ARROW),
    (KR, A15_MO_BANDS, A15_MO_VB, A15_MO_CB, A15_MO_ARROW),
    (KL, Z15_WS_BANDS, Z15_WS_VB, Z15_WS_CB, Z15_WS_ARROW),
    (KR, A15_WS_BANDS, A15_WS_VB, A15_WS_CB, A15_WS_ARROW),
    (KL, Z24_MO_BANDS, Z24_MO_VB, Z24_MO_CB, Z24_MO_ARROW),
    (KR, A24_MO_BANDS, A24_MO_VB, A24_MO_CB, A24_MO_ARROW),
    (KL, Z24_WS_BANDS, Z24_WS_VB, Z24_WS_CB, Z24_WS_ARROW),
    (KR, A24_WS_BANDS, A24_WS_VB, A24_WS_CB, A24_WS_ARROW),
]
TITLES = ["(11,0)", "(11,11)", "(15,0)", "(15,15)", "(24,0)", "(24,24)"]
MATERIALS = ["MoS<sub>2</sub>", "WS<sub>2</sub>"]
KLABELS = ["K", "<span style=\"font-family:'Liberation Serif',serif\">Γ</span>", "K"]
YTICKS = [-1, 0, 1]
YTICKTEXT = ["-1", "0", "1"]
YMINOR = [-1.5, -0.5, 0.5, 1.5]
YRANGE = [-1.65, 1.9]

# ---------------- layout geometry (pixels) ----------------
W, H = 656, 1477
COL_X = [(104.5, 358.0), (384.0, 636.0)]
ROW_TOP = [37, 273, 528, 764, 1018, 1254]
PH = 196
FONT = "Liberation Sans, Arial, sans-serif"


def mirror(k, half):
    xs = list(k) + [1.0 - v for v in k[-2::-1]]
    ys = list(half) + list(half[-2::-1])
    return xs, ys


fig = go.Figure()
layout = dict(
    width=W, height=H, autosize=False,
    margin=dict(l=0, r=0, t=0, b=0, pad=0, autoexpand=False),
    paper_bgcolor="white", plot_bgcolor="white",
    showlegend=False,
    font=dict(family=FONT, size=19, color="black"),
)
annotations = []
shapes = []

for p, (k, bands, vb, cb, arrow) in enumerate(PANELS):
    row, col = divmod(p, 2)
    n = p + 1
    xa = "x" if n == 1 else f"x{n}"
    ya = "y" if n == 1 else f"y{n}"
    bx, by = [], []
    for b in bands:
        xs, ys = mirror(k, b)
        bx += xs + [None]
        by += ys + [None]
    fig.add_trace(go.Scatter(x=bx, y=by, mode="lines", xaxis=xa, yaxis=ya,
                             line=dict(color="black", width=1.0, shape="spline", smoothing=1.0),
                             hoverinfo="skip", connectgaps=False))
    xs, ys = mirror(k, cb)
    fig.add_trace(go.Scatter(x=xs, y=ys, mode="lines", xaxis=xa, yaxis=ya,
                             line=dict(color="#22dd22", width=2.6, shape="spline", smoothing=1.0),
                             hoverinfo="skip"))
    xs, ys = mirror(k, vb)
    fig.add_trace(go.Scatter(x=xs, y=ys, mode="lines", xaxis=xa, yaxis=ya,
                             line=dict(color="#1414ff", width=2.8, shape="spline", smoothing=1.0),
                             hoverinfo="skip"))

    x0, x1 = COL_X[col]
    top = ROW_TOP[row]
    xdom = [x0 / W, x1 / W]
    ydom = [1 - (top + PH) / H, 1 - top / H]
    show_k = (row % 2 == 1)
    layout["xaxis" if n == 1 else f"xaxis{n}"] = dict(
        domain=xdom, range=[0, 1], anchor=ya, automargin=False,
        tickmode="array", tickvals=[0, 0.5, 1], ticktext=KLABELS,
        showticklabels=show_k, ticks="inside", ticklen=8, tickwidth=1.2, tickcolor="black",
        ticklabelstandoff=-7,
        showline=True, linecolor="black", linewidth=1.4, mirror="ticks",
        showgrid=False, zeroline=False, fixedrange=True,
        tickfont=dict(family=FONT, size=20, color="black"),
    )
    layout["yaxis" if n == 1 else f"yaxis{n}"] = dict(
        domain=ydom, range=YRANGE, anchor=xa, automargin=False,
        side="left" if col == 0 else "right",
        tickmode="array", tickvals=YTICKS, ticktext=YTICKTEXT,
        ticks="inside", ticklen=8, tickwidth=1.2, tickcolor="black",
        minor=dict(tickmode="array", tickvals=YMINOR, ticks="inside", ticklen=6,
                   tickwidth=1.2, tickcolor="black", showgrid=False),
        showline=True, linecolor="black", linewidth=1.4, mirror="ticks",
        showgrid=False, zeroline=False, fixedrange=True,
        tickfont=dict(family=FONT, size=19, color="black"),
    )
    ax_t, ay_t, hx, hy = arrow
    annotations.append(dict(
        x=hx, y=hy, ax=ax_t, ay=ay_t, xref=xa, yref=ya, axref=xa, ayref=ya,
        text="", showarrow=True, arrowhead=2, arrowsize=1.1, arrowwidth=1.6,
        arrowcolor="black",
    ))
    if col == 0:
        shapes.append(dict(type="line", xref="paper", yref=ya,
                           x0=COL_X[0][0] / W, x1=COL_X[1][1] / W, y0=0, y1=0,
                           line=dict(color="black", width=1.3, dash="7px,4px"), layer="above"))
        annotations.append(dict(
            x=64 / W, y=0, xref="paper", yref=ya, xanchor="right", yanchor="middle",
            text=MATERIALS[row % 2], showarrow=False,
            font=dict(family=FONT, size=20, color="black"),
        ))

for pair in range(3):
    top = ROW_TOP[2 * pair]
    for col in range(2):
        x0, x1 = COL_X[col]
        annotations.append(dict(
            x=(x0 + x1) / 2 / W, y=1 - (top - 20) / H, xref="paper", yref="paper",
            xanchor="center", yanchor="middle", text=TITLES[2 * pair + col], showarrow=False,
            font=dict(family=FONT, size=20, color="black"),
        ))
    gap_mid = (top + PH + ROW_TOP[2 * pair + 1]) / 2
    annotations.append(dict(
        x=27 / W, y=1 - gap_mid / H, xref="paper", yref="paper",
        xanchor="center", yanchor="middle", text="E<sub>0</sub>&nbsp;&nbsp;&nbsp;[eV]", textangle=-90,
        showarrow=False, font=dict(family=FONT, size=21, color="black"),
    ))

layout["annotations"] = annotations
layout["shapes"] = shapes
fig.update_layout(**layout)
# remove the browser's default 8px page margin so the figure sits at the window origin
fig.write_html("out.html", config={"displayModeBar": False},
               post_script="document.body.style.margin='0';document.body.style.overflow='hidden';")
